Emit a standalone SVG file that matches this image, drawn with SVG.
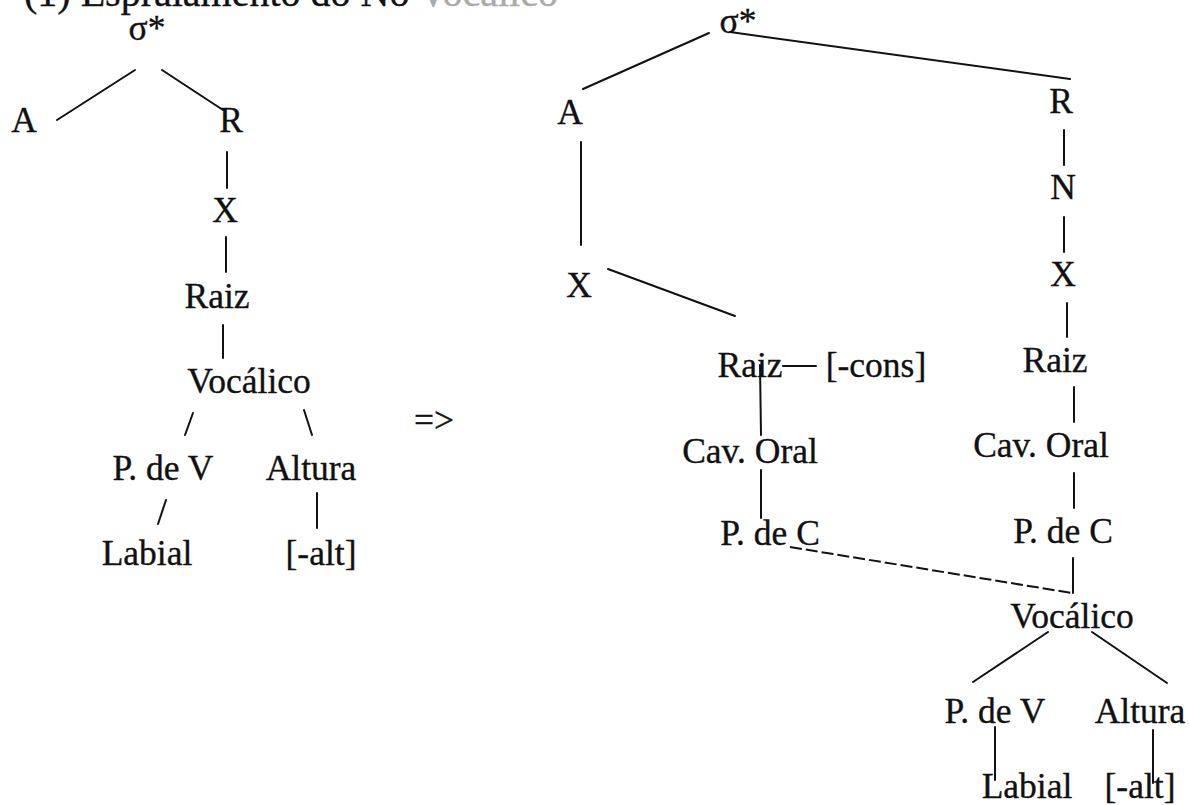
<svg xmlns="http://www.w3.org/2000/svg" width="1189" height="805" viewBox="0 0 1189 805">
<style>
text{font-family:"Liberation Serif","Times New Roman",serif;font-size:35.5px;fill:#111;stroke:#111;stroke-width:0.35;text-anchor:middle}
.title{font-size:40px;text-anchor:start}
.faint{fill:#aaa;stroke:#aaa}
line{stroke:#111;stroke-width:2;fill:none;stroke-linecap:round}
.dash{stroke-dasharray:12 4;stroke-linecap:butt}
</style>
<rect width="1189" height="805" fill="#fff"/>
<g id="title"><text class="title" x="24" y="6">(1) Espraiamento do Nó <tspan class="faint">Vocálico</tspan></text></g>
<g id="arrow"><text x="434" y="432">=&gt;</text></g>

<!-- left tree -->
<g id="L-sigma"><text x="147" y="40">σ*</text></g>
<g id="L-A"><text x="24" y="132">A</text></g>
<g id="L-R"><text x="231" y="132">R</text></g>
<g id="L-X"><text x="225" y="222">X</text></g>
<g id="L-Raiz"><text x="217" y="308">Raiz</text></g>
<g id="L-Vocalico"><text x="249" y="393">Vocálico</text></g>
<g id="L-PdeV"><text x="163" y="480">P. de V</text></g>
<g id="L-Altura"><text x="311" y="480">Altura</text></g>
<g id="L-Labial"><text x="147" y="565">Labial</text></g>
<g id="L-alt"><text x="321" y="565">[-alt]</text></g>

<!-- right tree -->
<g id="R-sigma"><text x="738" y="33">σ*</text></g>
<g id="R-A"><text x="570" y="124">A</text></g>
<g id="R-X1"><text x="579" y="297">X</text></g>
<g id="R-Raiz1"><text x="750" y="377">Raiz</text></g>
<g id="R-cons"><text x="876" y="377">[-cons]</text></g>
<g id="R-CavOral1"><text x="750" y="463">Cav. Oral</text></g>
<g id="R-PdeC1"><text x="770" y="545">P. de C</text></g>
<g id="R-R"><text x="1061" y="113">R</text></g>
<g id="R-N"><text x="1063" y="199">N</text></g>
<g id="R-X2"><text x="1063" y="286">X</text></g>
<g id="R-Raiz2"><text x="1055" y="372">Raiz</text></g>
<g id="R-CavOral2"><text x="1041" y="457">Cav. Oral</text></g>
<g id="R-PdeC2"><text x="1063" y="543">P. de C</text></g>
<g id="R-Vocalico"><text x="1072" y="628">Vocálico</text></g>
<g id="R-PdeV"><text x="995" y="723">P. de V</text></g>
<g id="R-Altura"><text x="1140" y="723">Altura</text></g>
<g id="R-Labial"><text x="1027" y="798">Labial</text></g>
<g id="R-alt"><text x="1140" y="798">[-alt]</text></g>

<g id="connectors">
<!-- left -->
<line x1="135" y1="70" x2="57" y2="120"/>
<line x1="162" y1="70" x2="223" y2="110"/>
<line x1="227" y1="152" x2="227" y2="188"/>
<line x1="226" y1="237" x2="226" y2="272"/>
<line x1="223" y1="325" x2="223" y2="358"/>
<line x1="193" y1="413" x2="185" y2="435"/>
<line x1="304" y1="410" x2="312" y2="435"/>
<line x1="166" y1="500" x2="158" y2="524"/>
<line x1="317" y1="493" x2="317" y2="528"/>
<!-- right -->
<line x1="709" y1="33" x2="583" y2="89"/>
<line x1="730" y1="32" x2="1070" y2="79"/>
<line x1="581" y1="142" x2="581" y2="245"/>
<line x1="608" y1="269" x2="735" y2="316"/>
<line x1="783" y1="366" x2="816" y2="366"/>
<line x1="760" y1="365" x2="761" y2="435"/>
<line x1="761" y1="470" x2="761" y2="518"/>
<line x1="1064" y1="130" x2="1064" y2="165"/>
<line x1="1064" y1="217" x2="1064" y2="252"/>
<line x1="1067" y1="303" x2="1067" y2="337"/>
<line x1="1074" y1="387" x2="1074" y2="422"/>
<line x1="1074" y1="473" x2="1074" y2="508"/>
<line x1="1073" y1="558" x2="1073" y2="593"/>
<line class="dash" x1="790" y1="547" x2="1072" y2="593"/>
<line x1="1048" y1="632" x2="973" y2="682"/>
<line x1="1092" y1="632" x2="1167" y2="683"/>
<line x1="995" y1="727" x2="995" y2="780"/>
<line x1="1153" y1="730" x2="1153" y2="783"/>
</g>
</svg>
